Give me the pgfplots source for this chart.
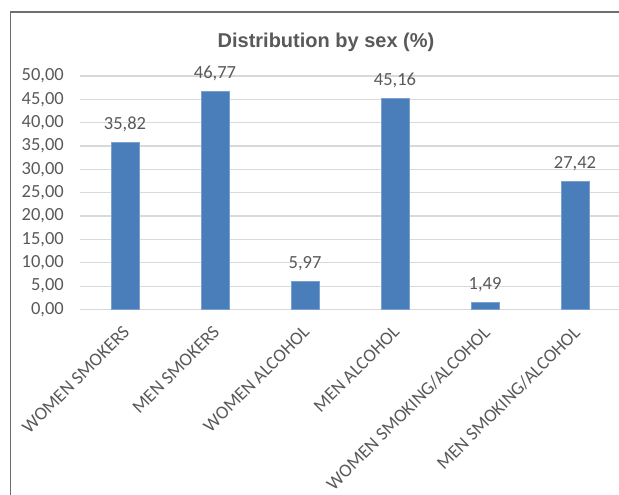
\documentclass[border=0pt]{standalone}
\usepackage{pgfplots}
\pgfplotsset{compat=1.18}
\usepackage{fontspec}
\setmainfont{Carlito}
\newfontfamily\titlefont{Liberation Sans}
\definecolor{barblue}{HTML}{4A7EBB}
\definecolor{baredge}{HTML}{7BA0D0}
\definecolor{txtgray}{HTML}{595959}
\definecolor{gridgray}{HTML}{D9D9D9}
\definecolor{framegray}{HTML}{6E6E6E}
\begin{document}
\begin{tikzpicture}[x=1pt,y=1pt]
\useasboundingbox (0,0) rectangle (619,495);
\draw[framegray, line width=1.5pt] (10.5,-5) -- (10.5,483) -- (630,483);
\node[font=\titlefont\bfseries\fontsize{20}{24}\selectfont, text=txtgray] at (326,453) {Distribution by sex (\%)};
\begin{axis}[
  at={(80pt,185.5pt)}, anchor=south west,
  width=540pt, height=233.5pt, scale only axis,
  ymin=0, ymax=50, xmin=-0.5, xmax=5.5,
  ytick={0,5,...,50},
  xtick={0,1,2,3,4,5},
  xticklabels={WOMEN SMOKERS, MEN SMOKERS, WOMEN ALCOHOL, MEN ALCOHOL, WOMEN SMOKING/ALCOHOL, MEN SMOKING/ALCOHOL},
  axis line style={draw=none},
  major tick length=0pt,
  ymajorgrids, major grid style={gridgray, line width=1.2pt},
  /pgf/number format/assume math mode=true,
  yticklabel style={/pgf/number format/.cd, fixed, fixed zerofill, precision=2, use comma, /tikz/.cd,
     font=\fontsize{18.5}{20}\selectfont, text=txtgray, inner sep=0pt, anchor=east, xshift=-16pt},
  xticklabel style={font=\fontsize{18.5}{20}\selectfont, text=txtgray, xshift=-3pt, yshift=-15pt, rotate=45, anchor=north east, inner sep=0pt},
  ybar, bar width=28pt,
  nodes near coords,
  nodes near coords style={/pgf/number format/.cd, fixed, fixed zerofill, precision=2, use comma, /tikz/.cd,
     font=\fontsize{18.5}{20}\selectfont, text=txtgray, anchor=south, inner sep=0pt, yshift=10pt},
  clip=false,
]
\addplot[fill=barblue, draw=baredge, line width=0.8pt] coordinates {(0,35.82) (1,46.77) (2,5.97) (3,45.16) (4,1.49) (5,27.42)};
\end{axis}
\end{tikzpicture}
\end{document}
